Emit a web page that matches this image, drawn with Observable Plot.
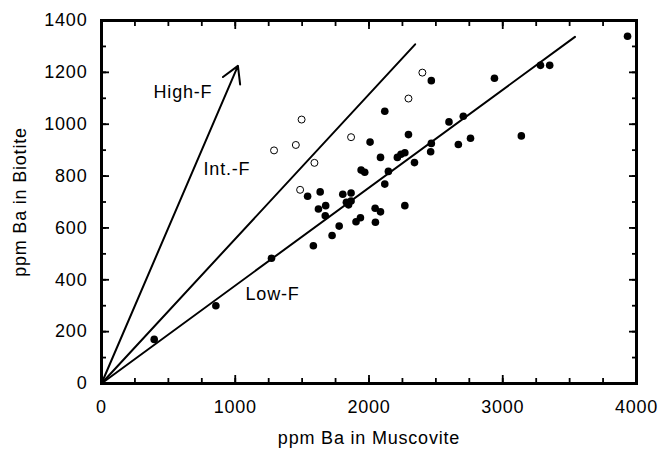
<!DOCTYPE html>
<html>
<head>
<meta charset="utf-8">
<script src="https://cdn.jsdelivr.net/npm/d3@7"></script>
<script src="https://cdn.jsdelivr.net/npm/@observablehq/plot@0.6"></script>
<style>
  html, body { margin: 0; padding: 0; background: #fff; }
  #chart svg { display: block; }
</style>
</head>
<body>
<div id="chart"></div>
<script>
// Filled circles: ppm Ba in muscovite (x) and biotite (y)
const muscFilled = [394, 855, 1271, 1584, 1541, 1635, 1622, 1676, 1673, 1724, 1777, 1804, 1866, 1831, 1847, 1866, 1903, 1936, 1941, 1968, 2008, 2046, 2048, 2086, 2086, 2118, 2145, 2118, 2212, 2239, 2268, 2268, 2295, 2340, 2461, 2466, 2466, 2598, 2668, 2705, 2759, 2938, 3139, 3282, 3351, 3933];
const bioFilled  = [170, 300, 483, 531, 722, 739, 673, 686, 647, 571, 607, 730, 735, 699, 689, 704, 624, 639, 823, 815, 931, 676, 622, 662, 872, 769, 818, 1050, 872, 884, 890, 686, 960, 852, 894, 926, 1168, 1009, 922, 1031, 946, 1177, 955, 1227, 1227, 1339];
// Open circles
const muscOpen = [1290, 1453, 1496, 1592, 1485, 1866, 2295, 2399];
const bioOpen  = [899, 920, 1018, 851, 747, 950, 1099, 1199];
// Reference lines from origin
const lineNames = ["High-F", "Int.-F", "Low-F"];
const lineEndX  = [1020, 2345, 3540];
const lineEndY  = [1225, 1308, 1337];
const labelX    = [389, 763, 1077];
const labelY    = [1122, 825, 343];
// Ticks
const xTicks = [0, 1000, 2000, 3000, 4000];
const xMinorTicks = d3.range(0, 4001, 250);
const yTicks = [0, 200, 400, 600, 800, 1000, 1200, 1400];
const yMinorTicks = d3.range(0, 1401, 100);

const filled = muscFilled.map((x, i) => ({x, y: bioFilled[i]}));
const open = muscOpen.map((x, i) => ({x, y: bioOpen[i]}));
const lines = lineNames.map((name, i) => ({name, x2: lineEndX[i], y2: lineEndY[i], lx: labelX[i], ly: labelY[i]}));
const segs = lines.slice(1).flatMap(d => [{name: d.name, x: 0, y: 0}, {name: d.name, x: d.x2, y: d.y2}]);

const minorLen = 5, majorLen = 8;
const tw = 1.8;
const fmt = d3.format("d");

const chart = Plot.plot({
  width: 661,
  height: 450,
  marginLeft: 101,
  marginRight: 25,
  marginTop: 20,
  marginBottom: 67,
  style: {fontFamily: "'Liberation Sans', Arial, sans-serif", fontSize: "18px", letterSpacing: "0.8px", color: "#000", background: "#fff"},
  x: {domain: [0, 4000]},
  y: {domain: [0, 1400]},
  marks: [
    // tick labels and titles
    Plot.axisX({ticks: xTicks, tickSize: 0, tickPadding: 17, tickFormat: fmt, label: "ppm Ba in Muscovite", labelAnchor: "center", labelArrow: "none", labelOffset: 60}),
    Plot.axisY({ticks: yTicks, tickSize: 0, tickPadding: 14, tickFormat: fmt, label: "ppm Ba in Biotite", labelAnchor: "center", labelArrow: "none", labelOffset: 88}),
    // inward tick marks: outward axis ticks shifted back inside the frame
    Plot.axisX({anchor: "bottom", ticks: xMinorTicks, tickSize: minorLen, dy: -minorLen, text: null, label: null, strokeWidth: tw}),
    Plot.axisX({anchor: "bottom", ticks: xTicks, tickSize: majorLen, dy: -majorLen, text: null, label: null, strokeWidth: tw}),
    Plot.axisX({anchor: "top", ticks: xMinorTicks, tickSize: minorLen, dy: minorLen, text: null, label: null, strokeWidth: tw}),
    Plot.axisX({anchor: "top", ticks: xTicks, tickSize: majorLen, dy: majorLen, text: null, label: null, strokeWidth: tw}),
    Plot.axisY({anchor: "left", ticks: yMinorTicks, tickSize: minorLen, dx: minorLen, text: null, label: null, strokeWidth: tw}),
    Plot.axisY({anchor: "left", ticks: yTicks, tickSize: majorLen, dx: majorLen, text: null, label: null, strokeWidth: tw}),
    Plot.axisY({anchor: "right", ticks: yMinorTicks, tickSize: minorLen, dx: -minorLen, text: null, label: null, strokeWidth: tw}),
    Plot.axisY({anchor: "right", ticks: yTicks, tickSize: majorLen, dx: -majorLen, text: null, label: null, strokeWidth: tw}),
    Plot.frame({stroke: "#000", strokeWidth: 3, fill: "none"}),
    Plot.line(segs, {x: "x", y: "y", z: "name", stroke: "#000", strokeWidth: 2}),
    Plot.arrow(lines.slice(0, 1), {x1: 0, y1: 0, x2: "x2", y2: "y2", stroke: "#000", strokeWidth: 2, headLength: 14, bend: 0}),
    Plot.dot(open, {x: "x", y: "y", r: 3.5, stroke: "#000", strokeWidth: 1, fill: "#fff"}),
    Plot.dot(filled, {x: "x", y: "y", r: 3.8, fill: "#000", stroke: "none"}),
    Plot.text(lines, {x: "lx", y: "ly", text: "name", textAnchor: "start", fill: "#000", fontSize: 18})
  ]
});
document.getElementById("chart").appendChild(chart);
</script>
</body>
</html>
